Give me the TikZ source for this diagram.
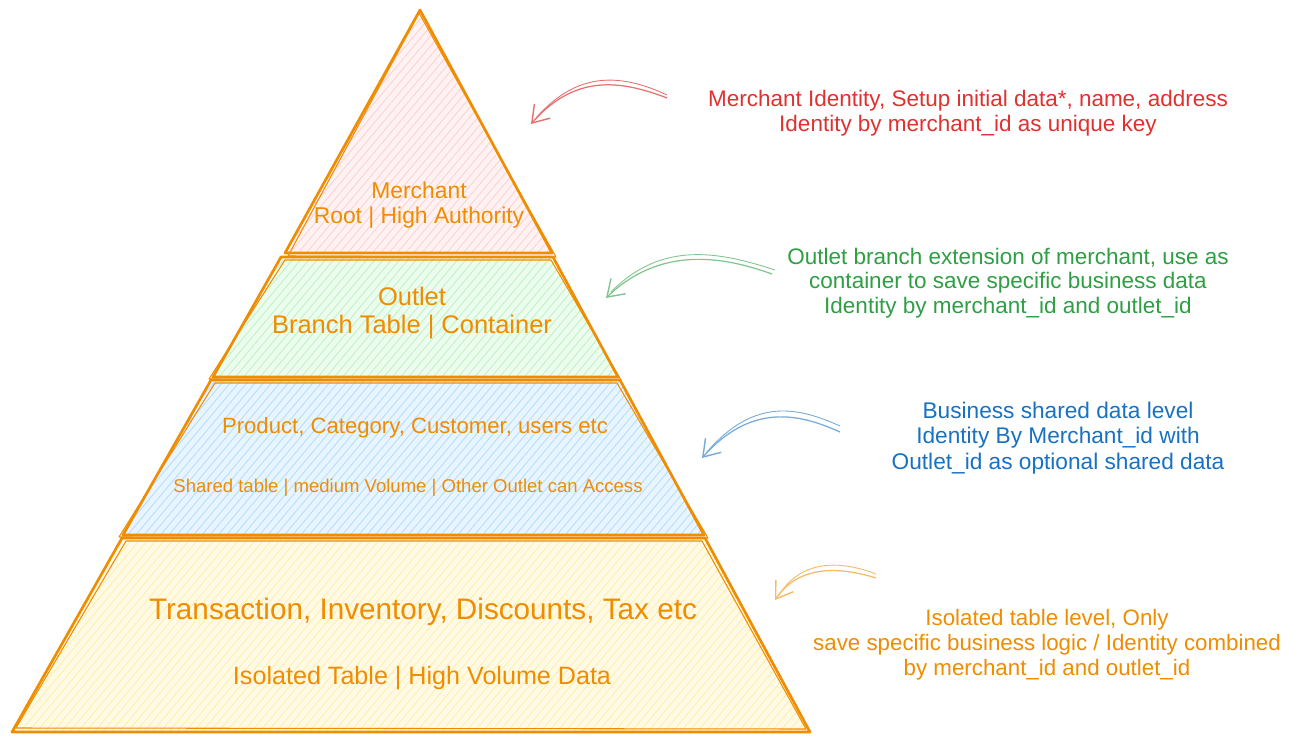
\documentclass[tikz,border=0pt]{standalone}
\usepackage{fontspec}
\setmainfont{Liberation Sans}
\usetikzlibrary{patterns.meta,arrows.meta}
\definecolor{ostroke}{HTML}{F08C00}
\definecolor{tred}{HTML}{E03131}
\definecolor{tgreen}{HTML}{2F9E44}
\definecolor{tblue}{HTML}{1971C2}
\definecolor{hpink}{HTML}{FFC9C9}
\definecolor{hgreen}{HTML}{B2F2BB}
\definecolor{hblue}{HTML}{A5D8FF}
\definecolor{hyellow}{HTML}{FFEC99}
\tikzset{
  layerfill/.style={fill=#1!25, draw=none},
  layerhatch/.style={pattern={Lines[angle=50,distance=3.6pt,line width=0.5pt]}, pattern color=#1!85, draw=none},
  layeredge/.style={draw=ostroke, line width=1.5pt, line join=round},
  layeredgethin/.style={draw=ostroke, line width=0.6pt, line join=round},
  txt/.style={inner sep=0pt, align=center, text=#1},
  sketcharrow/.style={draw=#1, line width=0.7pt, -{Straight Barb[length=9pt,width=12pt,line width=0.8pt]}},
  sketchback/.style={draw=#1, line width=0.5pt},
}
\begin{document}
\begin{tikzpicture}[x=0.02cm,y=-0.02cm]
\useasboundingbox (0,0) rectangle (1297,746);
\fill[white] (0,0) rectangle (1297,746);

% ---- layer shapes ----
% Merchant
\path[layerfill=hpink] (420,10) -- (552,253) -- (285,253) -- cycle;
\path[layerhatch=hpink] (420,10) -- (552,253) -- (285,253) -- cycle;
% Outlet
\path[layerfill=hgreen] (281,257) -- (553,257) -- (618,377) -- (213,377) -- cycle;
\path[layerhatch=hgreen] (281,257) -- (553,257) -- (618,377) -- (213,377) -- cycle;
% Shared
\path[layerfill=hblue] (211,380) -- (620,380) -- (704,535) -- (123,535) -- cycle;
\path[layerhatch=hblue] (211,380) -- (620,380) -- (704,535) -- (123,535) -- cycle;
% Isolated
\path[layerfill=hyellow] (122,538) -- (705,538) -- (810,732) -- (12,732) -- cycle;
\path[layerhatch=hyellow] (122,538) -- (705,538) -- (810,732) -- (12,732) -- cycle;

% outlines
\draw[layeredge] (420,10) -- (552,253) -- (285,253) -- cycle;
\draw[layeredgethin] (419,13) -- (556,257) -- (288,256) -- cycle;
\draw[layeredge] (281,257) -- (553,257) -- (618,377) -- (213,377) -- cycle;
\draw[layeredgethin] (285,260) -- (551,260) -- (621,380) -- (209,379) -- cycle;
\draw[layeredge] (211,380) -- (620,380) -- (704,535) -- (123,535) -- cycle;
\draw[layeredgethin] (215,383) -- (617,383) -- (708,538) -- (119,537) -- cycle;
\draw[layeredge] (122,538) -- (705,538) -- (810,732) -- (12,732) -- cycle;
\draw[layeredgethin] (126,541) -- (702,541) -- (806,729) -- (16,728) -- cycle;

% ---- pyramid texts ----
\node[txt=ostroke, font=\fontsize{13}{14.2}\selectfont] (merchant) at (419,205) {Merchant\\Root | High Authority};
\node[txt=ostroke, font=\fontsize{14.5}{16.4}\selectfont] (outlet) at (412,313) {Outlet\\Branch Table | Container};
\node[txt=ostroke, font=\fontsize{12.6}{14}\selectfont] (shared1) at (415,428) {Product, Category, Customer, users etc};
\node[txt=ostroke, font=\fontsize{10.55}{12}\selectfont] (shared2) at (408,488) {Shared table | medium Volume | Other Outlet can Access};
\node[txt=ostroke, font=\fontsize{16.9}{18}\selectfont] (iso1) at (423,612) {Transaction, Inventory, Discounts, Tax etc};
\node[txt=ostroke, font=\fontsize{14.3}{16}\selectfont] (iso2) at (422,678) {Isolated Table | High Volume Data};

% ---- side notes ----
\node[txt=tred, font=\fontsize{12.8}{14.2}\selectfont] (noteM) at (968,113) {Merchant Identity, Setup initial data*, name, address\\Identity by merchant\_id as unique key};
\node[txt=tgreen, font=\fontsize{12.8}{14}\selectfont] (noteO) at (1008,283) {Outlet branch extension of merchant, use as\\container to save specific business data\\Identity by merchant\_id and outlet\_id};
\node[txt=tblue, font=\fontsize{12.9}{14.4}\selectfont] (noteS) at (1058,438) {Business shared data level\\Identity By Merchant\_id with\\Outlet\_id as optional shared data};
\node[txt=ostroke, font=\fontsize{12.7}{14.2}\selectfont] (noteI) at (1047,645) {Isolated table level, Only\\save specific business logic / Identity combined\\by merchant\_id and outlet\_id};

% ---- arrow coordinates ----
\coordinate (aMs) at (667,98);  \coordinate (aMe) at (531,124);
\coordinate (aOs) at (772,274); \coordinate (aOe) at (606,298);
\coordinate (aSs) at (840,432); \coordinate (aSe) at (702,458);
\coordinate (aIs) at (876,578); \coordinate (aIe) at (775,600);

% ---- arrows ----
\draw[sketchback=tred!70] (aMs) ++(0,-3) .. controls (622,74) and (578,70) .. (536,118);
\draw[sketcharrow=tred!70] (aMs) .. controls (620,80) and (575,74) .. (aMe);
\draw[sketchback=tgreen!60] (aOs) ++(3,-4) .. controls (720,252) and (662,240) .. (611,292);
\draw[sketcharrow=tgreen!60] (aOs) .. controls (722,256) and (660,246) .. (aOe);
\draw[sketchback=tblue!60] (aSs) ++(0,-6) .. controls (800,408) and (755,396) .. (707,452);
\draw[sketcharrow=tblue!60] (aSs) .. controls (800,414) and (752,402) .. (aSe);
\draw[sketchback=ostroke!60] (aIs) ++(0,-4) .. controls (850,564) and (805,554) .. (779,595);
\draw[sketcharrow=ostroke!60] (aIs) .. controls (850,570) and (802,560) .. (aIe);
\end{tikzpicture}
\end{document}
